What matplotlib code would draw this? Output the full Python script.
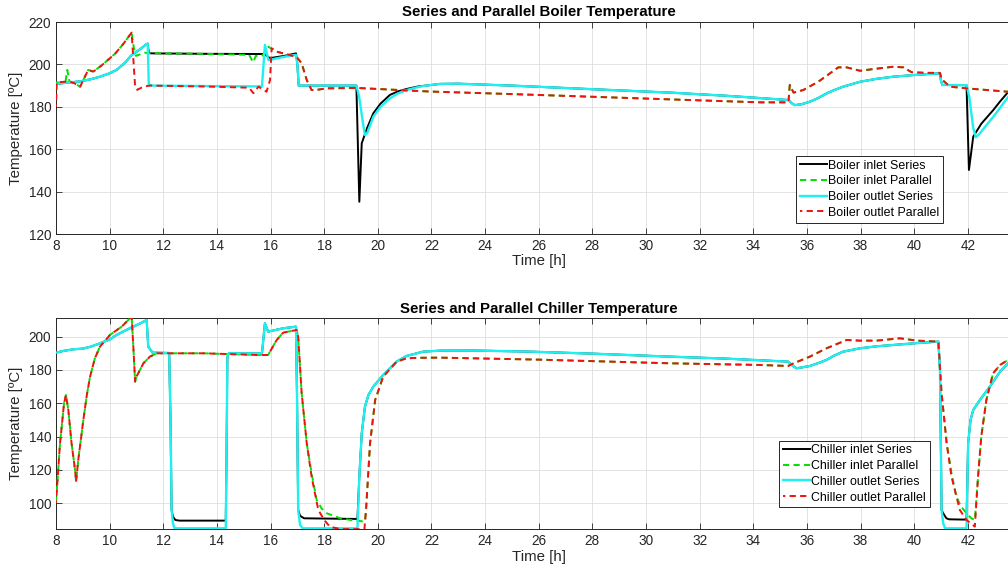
import matplotlib
matplotlib.use("Agg")
import matplotlib.pyplot as plt

plt.rcParams['font.family'] = ['Liberation Sans', 'DejaVu Sans']

# ---------------- Boiler temperatures (time in hours, temperature in degC) ----------------
b_in_ser_t = [8.0, 8.5, 8.9, 9.3, 9.64, 10.0, 10.26, 10.55, 10.82, 11.1, 11.38, 11.42, 11.46,
              11.6, 13.5, 15.7, 15.8, 15.98, 16.1, 16.5, 16.95, 17.0, 17.05, 19.2, 19.31, 19.4,
              19.6, 19.83, 20.1, 20.45, 20.75, 21.07, 21.5, 22.0, 22.32, 23.0, 25.0, 28.0, 30.9,
              33.0, 35.31, 35.45, 35.55, 35.8, 36.11, 36.4, 36.73, 37.0, 37.35, 37.98, 38.6,
              39.22, 40.0, 40.96, 41.0, 41.05, 41.95, 42.04, 42.2, 42.5, 42.95, 43.2, 43.51, 44.0]
b_in_ser_v = [190.8, 191.5, 192.0, 193.0, 194.2, 195.8, 197.4, 200.5, 204.4, 206.8, 209.6, 209.8,
              205.3, 205.2, 205.0, 204.9, 204.6, 202.9, 203.2, 204.0, 205.2, 200.0, 190.0, 190.0,
              135.2, 162.8, 170.0, 176.9, 181.5, 185.6, 187.3, 188.4, 189.6, 190.3, 190.8, 190.9,
              190.0, 188.3, 186.7, 185.2, 183.2, 181.5, 180.8, 181.2, 182.4, 184.0, 186.3, 187.8,
              189.5, 191.8, 193.2, 194.2, 195.0, 195.8, 192.0, 190.3, 190.2, 150.2, 165.9, 172.0,
              178.5, 182.5, 187.1, 190.0]

b_in_par_t = [8.0, 8.35, 8.42, 8.5, 8.7, 8.9, 9.2, 9.39, 9.7, 10.2, 10.5, 10.82, 10.9, 10.98,
              11.3, 11.5, 13.5, 15.2, 15.35, 15.45, 15.7, 15.92, 16.23, 16.72, 16.97, 17.16,
              17.35, 17.53, 17.72, 18.1, 19.21, 21.94, 25.0, 30.9, 34.25, 35.31, 35.36, 35.5,
              35.86, 36.42, 37.17, 37.48, 37.98, 38.6, 39.22, 39.6, 39.9, 40.5, 40.96, 41.02,
              41.33, 41.95, 43.5, 44.0]
b_in_par_v = [191.5, 191.5, 197.4, 192.0, 191.0, 189.5, 197.4, 196.6, 199.5, 205.0, 209.5, 215.0,
              208.0, 204.0, 205.5, 205.3, 205.0, 204.5, 201.0, 204.0, 204.2, 208.3, 206.0, 204.4,
              203.5, 200.5, 192.6, 187.9, 188.0, 188.7, 188.9, 187.2, 186.0, 183.5, 182.1, 182.1,
              190.3, 186.7, 187.9, 191.8, 198.6, 198.6, 197.0, 198.0, 198.9, 198.6, 196.3, 196.0,
              196.0, 193.0, 189.5, 188.7, 187.1, 186.8]

b_out_ser_t = [8.0, 8.5, 8.9, 9.3, 9.64, 10.0, 10.26, 10.55, 10.82, 11.1, 11.38, 11.42, 11.46,
               11.6, 13.5, 15.68, 15.79, 15.92, 16.2, 16.6, 16.95, 17.0, 17.05, 19.2, 19.3,
               19.45, 19.52, 19.6, 19.83, 20.1, 20.45, 20.75, 21.07, 21.4, 21.69, 22.32, 23.0,
               25.0, 28.0, 30.9, 33.0, 35.31, 35.45, 35.55, 35.8, 36.11, 36.4, 36.73, 37.0,
               37.35, 37.98, 38.6, 39.22, 40.0, 40.96, 41.0, 41.05, 41.95, 42.05, 42.2, 42.3,
               42.45, 42.7, 42.95, 43.2, 43.51, 44.0]
b_out_ser_v = [190.8, 191.5, 192.0, 193.0, 194.2, 195.8, 197.4, 200.5, 204.4, 206.8, 209.6,
               209.8, 190.5, 190.0, 189.8, 189.6, 209.2, 202.0, 202.8, 203.8, 204.5, 200.0,
               190.0, 190.0, 185.0, 172.0, 166.7, 167.5, 175.3, 180.0, 184.0, 186.3, 187.9,
               189.0, 189.8, 190.8, 190.9, 190.0, 188.3, 186.7, 185.2, 183.2, 181.5, 180.8,
               181.2, 182.4, 184.0, 186.3, 187.8, 189.5, 191.8, 193.2, 194.2, 195.0, 195.8,
               192.0, 190.3, 190.2, 185.0, 170.0, 165.6, 167.5, 171.5, 175.3, 179.5, 184.8,
               188.5]

b_out_par_t = [8.0, 8.03, 8.5, 8.7, 8.9, 9.2, 9.39, 9.7, 10.2, 10.5, 10.82, 10.95, 11.03,
               11.26, 11.5, 13.5, 15.2, 15.36, 15.55, 15.85, 15.98, 16.04, 16.23, 16.72, 16.97,
               17.16, 17.35, 17.53, 17.72, 18.1, 19.21, 21.94, 25.0, 30.9, 34.25, 35.31, 35.36,
               35.5, 35.86, 36.42, 37.17, 37.48, 37.98, 38.6, 39.22, 39.6, 39.9, 40.5, 40.96,
               41.02, 41.33, 41.95, 43.5, 44.0]
b_out_par_v = [180.0, 191.5, 192.0, 191.0, 189.5, 197.4, 196.6, 199.5, 205.0, 209.5, 215.0,
               189.5, 188.0, 189.5, 190.0, 189.6, 189.0, 186.4, 189.5, 187.1, 192.6, 207.6,
               206.0, 204.4, 203.5, 200.5, 192.6, 187.9, 188.0, 188.7, 188.9, 187.2, 186.0,
               183.5, 182.1, 182.1, 190.3, 186.7, 187.9, 191.8, 198.6, 198.6, 197.0, 198.0,
               198.9, 198.6, 196.3, 196.0, 196.0, 193.0, 189.5, 188.7, 187.1, 186.8]

# ---------------- Chiller temperatures ----------------
c_out_ser_t = [8.0, 8.3, 8.65, 9.0, 9.3, 9.64, 10.0, 10.26, 10.6, 10.88, 11.15, 11.38, 11.44,
               11.6, 12.22, 12.27, 12.31, 12.36, 12.42, 14.33, 14.36, 14.39, 14.45, 15.68,
               15.79, 15.91, 16.47, 16.95, 16.99, 17.03, 17.1, 17.2, 19.24, 19.31, 19.4, 19.52,
               19.65, 19.83, 20.2, 20.7, 21.07, 21.69, 22.32, 23.5, 25.67, 28.0, 30.9, 33.0,
               35.3, 35.45, 35.61, 35.8, 36.11, 36.4, 36.73, 37.0, 37.35, 37.98, 38.6, 39.22,
               40.0, 40.9, 40.96, 41.02, 41.08, 41.15, 41.95, 42.01, 42.1, 42.2, 42.45, 42.82,
               43.2, 43.5, 44.0]
c_out_ser_v = [190.4, 191.5, 192.4, 192.8, 194.0, 196.0, 198.3, 201.0, 203.8, 206.0, 208.0,
               210.0, 194.0, 190.4, 190.2, 150.0, 96.0, 88.0, 85.0, 85.0, 130.0, 188.0, 190.0,
               190.0, 208.0, 203.0, 205.0, 206.0, 160.0, 96.0, 87.0, 85.0, 85.0, 116.0, 142.0,
               158.0, 165.0, 170.0, 177.0, 185.0, 188.4, 191.0, 191.6, 191.7, 191.0, 189.8,
               188.0, 186.8, 185.0, 182.8, 181.0, 181.5, 182.4, 184.0, 186.0, 188.5, 191.0,
               193.0, 194.2, 195.0, 196.0, 197.0, 180.0, 96.0, 88.0, 85.0, 85.0, 136.0, 150.0,
               156.0, 162.0, 170.0, 179.0, 184.0, 188.0]

c_in_ser_t = [8.0, 8.3, 8.65, 9.0, 9.3, 9.64, 10.0, 10.26, 10.6, 10.88, 11.15, 11.38, 11.44,
              11.6, 12.22, 12.27, 12.31, 12.36, 12.45, 12.6, 14.33, 14.36, 14.39, 14.45, 15.68,
              15.79, 15.91, 16.47, 16.95, 16.99, 17.03, 17.1, 17.25, 19.24, 19.31, 19.4, 19.52,
              19.65, 19.83, 20.2, 20.7, 21.07, 21.69, 22.32, 23.5, 25.67, 28.0, 30.9, 33.0,
              35.3, 35.45, 35.61, 35.8, 36.11, 36.4, 36.73, 37.0, 37.35, 37.98, 38.6, 39.22,
              40.0, 40.9, 40.96, 41.02, 41.08, 41.2, 41.3, 41.95, 42.01, 42.1, 42.2, 42.45,
              42.82, 43.2, 43.5, 44.0]
c_in_ser_v = [190.4, 191.5, 192.4, 192.8, 194.0, 196.0, 198.3, 201.0, 203.8, 206.0, 208.0,
              210.0, 194.0, 190.4, 190.2, 150.0, 96.0, 92.0, 90.0, 89.6, 89.6, 130.0, 188.0,
              190.0, 190.0, 208.0, 203.0, 205.0, 206.0, 160.0, 96.0, 92.5, 91.0, 90.6, 116.0,
              142.0, 158.0, 165.0, 170.0, 177.0, 185.0, 188.4, 191.0, 191.6, 191.7, 191.0,
              189.8, 188.0, 186.8, 185.0, 182.8, 181.0, 181.5, 182.4, 184.0, 186.0, 188.5,
              191.0, 193.0, 194.2, 195.0, 196.0, 197.0, 180.0, 96.0, 94.0, 91.0, 90.4, 90.2,
              136.0, 150.0, 156.0, 162.0, 170.0, 179.0, 184.0, 188.0]

c_in_par_t = [8.0, 8.15, 8.3, 8.37, 8.46, 8.58, 8.71, 8.75, 8.83, 9.02, 9.15, 9.27, 9.45, 9.64,
              10.01, 10.45, 10.82, 10.88, 10.95, 11.0, 11.26, 11.5, 11.76, 13.5, 15.48, 15.91,
              16.05, 16.23, 16.47, 16.97, 17.03, 17.16, 17.35, 17.53, 17.72, 17.9, 18.1, 18.6,
              19.0, 19.52, 19.56, 19.71, 19.9, 20.2, 20.7, 21.07, 21.5, 22.3, 26.0, 30.9, 34.25,
              35.3, 35.5, 36.11, 36.73, 37.48, 37.98, 38.6, 39.47, 40.1, 40.9, 41.02, 41.21,
              41.39, 41.57, 41.75, 41.95, 42.13, 42.26, 42.38, 42.5, 42.69, 42.94, 43.2, 43.5,
              44.0]
c_in_par_v = [100.4, 136.0, 160.0, 165.0, 156.0, 136.0, 120.0, 113.0, 126.0, 150.0, 165.0,
              176.0, 187.0, 194.0, 201.0, 206.0, 212.0, 195.0, 173.0, 176.0, 184.0, 188.0,
              190.0, 190.0, 189.0, 189.0, 193.0, 198.0, 202.4, 204.0, 200.0, 166.0, 136.0,
              118.0, 102.0, 97.0, 94.0, 91.0, 90.0, 89.0, 96.0, 136.0, 162.0, 176.0, 185.0,
              187.0, 187.3, 187.4, 186.2, 184.0, 183.0, 182.4, 184.0, 188.0, 193.0, 198.0,
              197.6, 197.6, 199.0, 197.6, 197.0, 166.0, 136.0, 118.0, 104.0, 98.0, 94.0, 91.0,
              90.0, 116.0, 140.0, 162.0, 178.0, 183.0, 186.0, 188.0]

c_out_par_t = [8.0, 8.15, 8.3, 8.37, 8.46, 8.58, 8.71, 8.75, 8.83, 9.02, 9.15, 9.27, 9.45,
               9.64, 10.01, 10.45, 10.82, 10.88, 10.95, 11.0, 11.26, 11.5, 11.76, 13.5, 15.48,
               15.91, 16.05, 16.23, 16.47, 16.97, 17.03, 17.16, 17.35, 17.53, 17.78, 18.0,
               18.21, 18.6, 19.5, 19.56, 19.71, 19.9, 20.2, 20.7, 21.07, 21.5, 22.3, 26.0,
               30.9, 34.25, 35.3, 35.5, 36.11, 36.73, 37.48, 37.98, 38.6, 39.47, 40.1, 40.9,
               41.02, 41.21, 41.39, 41.7, 41.95, 42.26, 42.38, 42.5, 42.69, 42.94, 43.2, 43.5,
               44.0]
c_out_par_v = [100.4, 136.0, 160.0, 165.0, 156.0, 136.0, 120.0, 113.0, 126.0, 150.0, 165.0,
               176.0, 187.0, 194.0, 201.0, 206.0, 212.0, 195.0, 173.0, 176.0, 184.0, 188.0,
               190.0, 190.0, 189.0, 189.0, 193.0, 198.0, 202.4, 204.0, 200.0, 166.0, 136.0,
               116.0, 96.0, 90.0, 86.0, 84.5, 84.5, 96.0, 136.0, 162.0, 176.0, 185.0, 187.0,
               187.3, 187.4, 186.2, 184.0, 183.0, 182.4, 184.0, 188.0, 193.0, 198.0, 197.6,
               197.6, 199.0, 197.6, 197.0, 166.0, 136.0, 116.0, 96.0, 90.0, 86.0, 116.0, 140.0,
               162.0, 178.0, 183.0, 186.0, 188.0]

x_ticks = list(range(8, 43, 2))
boiler_yticks = [120, 140, 160, 180, 200, 220]
chiller_yticks = [100, 120, 140, 160, 180, 200]

boiler_labels = ['Boiler inlet Series', 'Boiler inlet Parallel',
                 'Boiler outlet Series', 'Boiler outlet Parallel']
chiller_labels = ['Chiller inlet Series', 'Chiller inlet Parallel',
                  'Chiller outlet Series', 'Chiller outlet Parallel']

BLACK = '#000000'
GREEN = '#00e000'
CYAN = '#1ef0f0'
RED = '#f01010'
AX_COLOR = '#262626'

fig = plt.figure(figsize=(10.08, 5.77), dpi=100)
W, H = 1008.0, 577.0
# axes extend a little past the right edge of the canvas
ax1 = fig.add_axes([56 / W, 1 - 234 / H, 965.5 / W, 212 / H])
ax2 = fig.add_axes([56 / W, 1 - 529.3 / H, 965.5 / W, 211 / H])


def draw(ax, series, labels, yticks, ylim, title, leg_anchor):
    (t1, v1), (t2, v2), (t3, v3), (t4, v4) = series
    h1, = ax.plot(t1, v1, color=BLACK, lw=1.4, label=labels[0], zorder=3)
    h2, = ax.plot(t2, v2, color=GREEN, lw=1.4, ls=(0, (3.2, 2.2)), label=labels[1], zorder=4)
    h3, = ax.plot(t3, v3, color=CYAN, lw=1.7, label=labels[2], zorder=5)
    h4, = ax.plot(t4, v4, color=RED, lw=1.4, ls=(2.0, (3.2, 2.2)), label=labels[3], zorder=6)
    ax.set_xlim(8, 44)
    ax.set_ylim(*ylim)
    ax.set_xticks(x_ticks)
    ax.set_yticks(yticks)
    ax.grid(True, color='#dedede', lw=0.6)
    ax.set_axisbelow(True)
    ax.tick_params(direction='in', length=4, width=0.6, colors=AX_COLOR,
                   labelsize=9.8, top=True, right=True, pad=3.5)
    for s in ax.spines.values():
        s.set_color(AX_COLOR)
        s.set_linewidth(0.7)
    ax.set_xlabel('Time [h]', fontsize=10.8, color=AX_COLOR, labelpad=1)
    ax.set_ylabel('Temperature [ºC]', fontsize=10.8, color=AX_COLOR, labelpad=4)
    ax.set_title(title, fontsize=10.8, fontweight='bold', color='black', pad=4)
    leg = ax.legend(handles=[h1, h2, h3, h4], loc='upper left', bbox_to_anchor=leg_anchor,
                    borderaxespad=0, fontsize=8.9, frameon=True, fancybox=False,
                    edgecolor=AX_COLOR, framealpha=1, handlelength=2.2, handletextpad=0.1,
                    labelspacing=0.3, borderpad=0.3)
    leg.get_frame().set_linewidth(0.7)
    leg.set_zorder(10)


draw(ax1, [(b_in_ser_t, b_in_ser_v), (b_in_par_t, b_in_par_v),
           (b_out_ser_t, b_out_ser_v), (b_out_par_t, b_out_par_v)],
     boiler_labels, boiler_yticks, (120, 220),
     'Series and Parallel Boiler Temperature', (0.7664, 0.368))
draw(ax2, [(c_in_ser_t, c_in_ser_v), (c_in_par_t, c_in_par_v),
           (c_out_ser_t, c_out_ser_v), (c_out_par_t, c_out_par_v)],
     chiller_labels, chiller_yticks, (84.4, 211),
     'Series and Parallel Chiller Temperature', (0.7488, 0.42))

fig.savefig('out.png', dpi=100)
